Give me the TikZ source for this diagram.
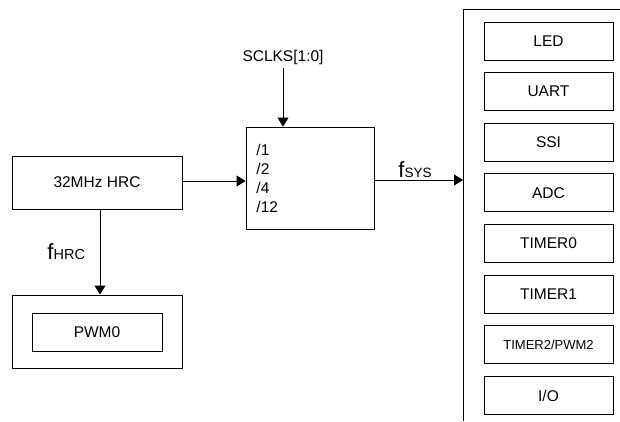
\documentclass[tikz,border=0pt]{standalone}
\usepackage{fontspec}
\setmainfont{Liberation Sans}
\usetikzlibrary{arrows.meta,calc}
\begin{document}
\begin{tikzpicture}[x=1pt,y=-1pt,
  line width=0.9pt,
  box/.style={draw=black,line width=0.9pt,rectangle,inner sep=0pt,font=\fontsize{15.5}{18}\selectfont},
  lbl/.style={inner sep=0pt,font=\fontsize{15.5}{18}\selectfont},
  conn/.style={draw=black,line width=0.9pt,-{Triangle[length=9pt,width=11pt]}},
  plain/.style={draw=black,line width=0.9pt},
  freq/.style={inner sep=0pt,anchor=base west}]
\useasboundingbox (0,0) rectangle (620,421);

% SCLKS label and divider
\node[lbl] (sclks) at (283,57) {SCLKS[1:0]};
\node[box,minimum width=128pt,minimum height=102pt] (div) at (310,178) {};
\node[lbl,anchor=base west] (d1) at (256,155) {/1};
\node[lbl,anchor=base west] (d2) at (256,174) {/2};
\node[lbl,anchor=base west] (d4) at (256,193) {/4};
\node[lbl,anchor=base west] (d12) at (256,212) {/12};

% HRC
\node[box,minimum width=170pt,minimum height=53pt] (hrc) at (97,182.5) {32MHz HRC};

% PWM
\node[box,minimum width=170pt,minimum height=73pt] (pwmo) at (97,331.5) {};
\node[box,minimum width=130pt,minimum height=38pt] (pwm) at (97,332) {PWM0};

% right panel
\coordinate (pbot) at (463,421);
\coordinate (ptop) at (463,9);
\coordinate (pright) at (620,9);
\draw[plain] (pbot) -- (ptop) -- (pright);
\coordinate (pin) at (463,180);

\foreach \t/\n [count=\i from 0] in {LED/led,UART/uart,SSI/ssi,ADC/adc,TIMER0/tmr0,TIMER1/tmr1,{\fontsize{13}{15}\selectfont TIMER2/PWM2}/tmr2,{I/O}/io}{
  \node[box,minimum width=129pt,minimum height=38pt] (\n) at (548.5,{41+50.64*\i}) {\t};
}

% connectors
\draw[conn] ([yshift=-3pt]sclks.south) -- (sclks.south |- div.north);
\draw[conn] ([yshift=1.5pt]hrc.east) -- ([yshift=1.5pt]hrc.east -| div.west);
\draw[conn] (div.east |- pin) -- (pin);
\draw[conn] ([xshift=3pt]hrc.south) -- ([xshift=3pt]pwmo.north);

% frequency labels
\node[freq] (fsys) at (398,177) {{\fontsize{22}{23}\selectfont f}{\fontsize{13.5}{15}\selectfont SYS}};
\node[freq] (fhrc) at (47,259) {{\fontsize{22}{23}\selectfont f}{\fontsize{14.5}{16}\selectfont HRC}};
\end{tikzpicture}
\end{document}
